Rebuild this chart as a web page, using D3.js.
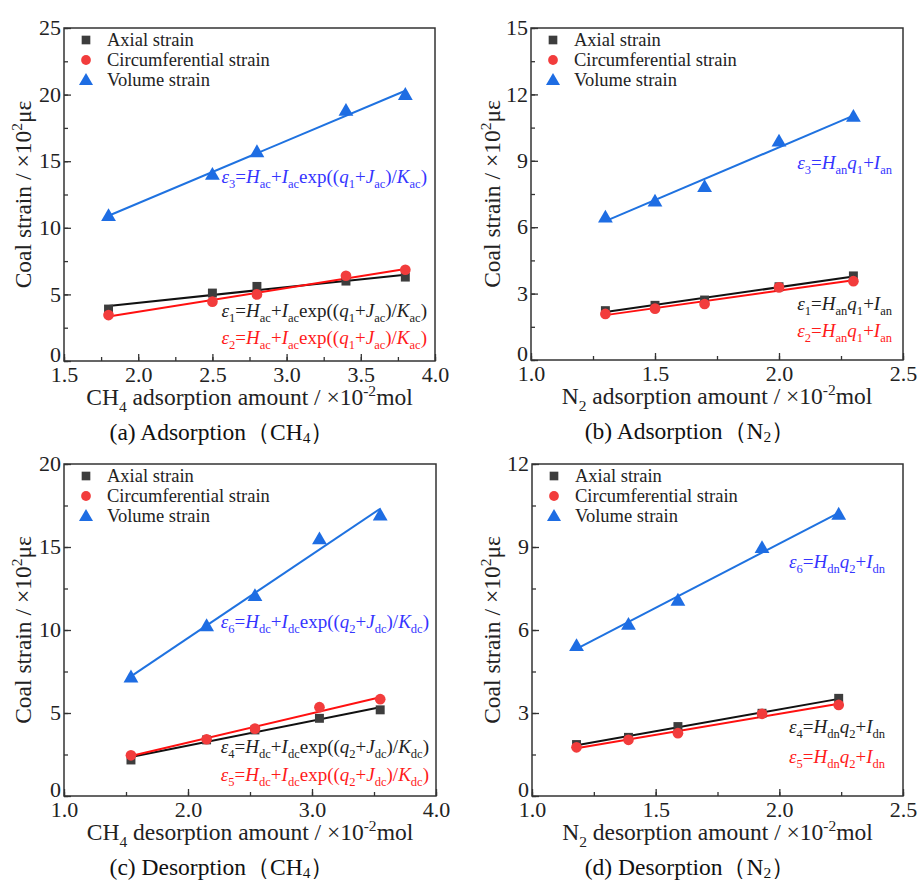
<!DOCTYPE html>
<html lang="en">
<head>
<meta charset="UTF-8">
<title>Coal strain vs adsorption / desorption</title>
<style>
  body { margin: 0; background: #fff; }
</style>
</head>
<body>
<script src="https://cdn.jsdelivr.net/npm/d3@7"></script>
<script>
// ---- data ----
const series_names = ['Axial strain', 'Circumferential strain', 'Volume strain'];

// (a) CH4 adsorption
const x_a = [1.8, 2.5, 2.8, 3.4, 3.8];
const axial_a = [3.9, 5.1, 5.6, 6.0, 6.3];
const circ_a = [3.45, 4.45, 5.0, 6.4, 6.85];
const volume_a = [10.9, 14.0, 15.7, 18.8, 20.0];

// (b) N2 adsorption
const x_b = [1.3, 1.5, 1.7, 2.0, 2.3];
const axial_b = [2.23, 2.47, 2.71, 3.31, 3.80];
const circ_b = [2.08, 2.32, 2.53, 3.28, 3.56];
const volume_b = [6.45, 7.17, 7.83, 9.88, 11.0];

// (c) CH4 desorption
const x_c = [1.54, 2.15, 2.54, 3.06, 3.55];
const axial_c = [2.17, 3.38, 3.98, 4.68, 5.19];
const circ_c = [2.45, 3.42, 4.06, 5.35, 5.83];
const volume_c = [7.16, 10.25, 12.06, 15.48, 16.92];

// (d) N2 desorption
const x_d = [1.18, 1.39, 1.59, 1.93, 2.24];
const axial_d = [1.86, 2.12, 2.51, 2.99, 3.53];
const circ_d = [1.76, 2.03, 2.27, 2.97, 3.29];
const volume_d = [5.43, 6.20, 7.07, 8.97, 10.18];

const serif = '"Liberation Serif", "Times New Roman", serif';
const marker_fill = ['#3d3d3d', '#f23c3c', '#1e6de3'];
const line_col = ['#111111', '#ff1010', '#1f72e0'];
const eq_col = ['#222222', '#ff1a1a', '#3535ff'];

// rich text: segments of [text, kind] with kind r = roman, i = italic, sub, sup
function rich(sel, segs, size, subShift = 0.28) {
    let shift = 0;
    segs.forEach(([t, k]) => {
        const ts = sel.append('tspan').text(t);
        let want = 0;
        if (k === 'sub') want = size * subShift;
        if (k === 'sup') want = -size * 0.38;
        if (want !== shift) { ts.attr('dy', want - shift); shift = want; }
        if (k === 'i') ts.attr('font-style', 'italic');
        if (k === 'sub' || k === 'sup') ts.attr('font-size', size * 0.66);
    });
}

const eqExp = (n, q, s) => [['ε', 'i'], [n, 'sub'], ['=', 'r'], ['H', 'i'], [s, 'sub'], ['+', 'r'], ['I', 'i'], [s, 'sub'],
    ['exp((', 'r'], ['q', 'i'], [q, 'sub'], ['+', 'r'], ['J', 'i'], [s, 'sub'], [')/', 'r'], ['K', 'i'], [s, 'sub'], [')', 'r']];
const eqLin = (n, q, s) => [['ε', 'i'], [n, 'sub'], ['=', 'r'], ['H', 'i'], [s, 'sub'], ['q', 'i'], [q, 'sub'], ['+', 'r'], ['I', 'i'], [s, 'sub']];

const panels = [
    { left: 64, top: 28, w: 371, h: 333, xd: [1.5, 4.0], yd: [0, 25], xs: 0.5, ys: 5, xfmt: '.1f',
      x: x_a, ys_data: [axial_a, circ_a, volume_a], ylx: 23,
      gas: 'CH', gsub: '4', word: 'adsorption', cap: '(a) Adsorption', capx: 222,
      eqs: [{ segs: eqExp('1', '1', 'ac'), y: 317, c: 0 }, { segs: eqExp('2', '1', 'ac'), y: 344, c: 1 }, { segs: eqExp('3', '1', 'ac'), y: 183, c: 2 }], eqr: 427 },
    { left: 531, top: 28, w: 372, h: 332, xd: [1.0, 2.5], yd: [0, 15], xs: 0.5, ys: 3, xfmt: '.1f',
      x: x_b, ys_data: [axial_b, circ_b, volume_b], ylx: 492,
      gas: 'N', gsub: '2', word: 'adsorption', cap: '(b) Adsorption', capx: 690,
      eqs: [{ segs: eqLin('1', '1', 'an'), y: 310, c: 0 }, { segs: eqLin('2', '1', 'an'), y: 337, c: 1 }, { segs: eqLin('3', '1', 'an'), y: 169, c: 2 }], eqr: 892 },
    { left: 64, top: 464, w: 372, h: 332, xd: [1.0, 4.0], yd: [0, 20], xs: 1.0, ys: 5, xfmt: '.1f',
      x: x_c, ys_data: [axial_c, circ_c, volume_c], ylx: 23,
      gas: 'CH', gsub: '4', word: 'desorption', cap: '(c) Desorption', capx: 222,
      eqs: [{ segs: eqExp('4', '2', 'dc'), y: 753, c: 0 }, { segs: eqExp('5', '2', 'dc'), y: 781, c: 1 }, { segs: eqExp('6', '2', 'dc'), y: 628, c: 2 }], eqr: 429 },
    { left: 532, top: 464, w: 371, h: 332, xd: [1.0, 2.5], yd: [0, 12], xs: 0.5, ys: 3, xfmt: '.1f',
      x: x_d, ys_data: [axial_d, circ_d, volume_d], ylx: 492,
      gas: 'N', gsub: '2', word: 'desorption', cap: '(d) Desorption', capx: 690,
      eqs: [{ segs: eqLin('4', '2', 'dn'), y: 733, c: 0 }, { segs: eqLin('5', '2', 'dn'), y: 763, c: 1 }, { segs: eqLin('6', '2', 'dn'), y: 568, c: 2 }], eqr: 885 },
];

const svg = d3.select('body').append('svg')
    .attr('width', 917).attr('height', 883)
    .style('background', '#fff')
    .attr('font-family', serif);

// least squares straight line through a series
function fit(xs, ys) {
    const mx = d3.mean(xs), my = d3.mean(ys);
    const sxy = d3.sum(xs, (x, i) => (x - mx) * (ys[i] - my));
    const sxx = d3.sum(xs, x => (x - mx) ** 2);
    const k = sxy / sxx;
    return x => my + k * (x - mx);
}

const range = (a, b, s) => d3.range(0, Math.round((b - a) / s) + 1).map(i => +(a + i * s).toFixed(4));

panels.forEach(p => {
    const g = svg.append('g').attr('transform', `translate(${p.left},${p.top})`);
    const x = d3.scaleLinear().domain(p.xd).range([0, p.w]);
    const y = d3.scaleLinear().domain(p.yd).range([p.h, 0]);

    // minor ticks
    g.append('g').attr('transform', `translate(0,${p.h})`)
        .call(d3.axisBottom(x).tickValues(range(p.xd[0], p.xd[1], p.xs / 2)).tickSize(-4).tickFormat(''))
        .call(a => a.select('.domain').remove());
    g.append('g')
        .call(d3.axisLeft(y).tickValues(range(p.yd[0], p.yd[1], p.ys / 2)).tickSize(-4).tickFormat(''))
        .call(a => a.select('.domain').remove());

    // major ticks
    const xa = g.append('g').attr('transform', `translate(0,${p.h})`)
        .call(d3.axisBottom(x).tickValues(range(p.xd[0], p.xd[1], p.xs)).tickSize(-7).tickPadding(5).tickFormat(d3.format(p.xfmt)));
    const ya = g.append('g')
        .call(d3.axisLeft(y).tickValues(range(p.yd[0], p.yd[1], p.ys)).tickSize(-7).tickPadding(3).tickFormat(d3.format('d')));
    [xa, ya].forEach(a => {
        a.select('.domain').remove();
        a.selectAll('text').attr('font-family', serif).attr('font-size', 22).attr('fill', '#222');
    });
    g.selectAll('.tick line').attr('stroke', '#333').attr('stroke-width', 1.3);
    xa.selectAll('text').attr('dy', '0.74em');
    // the zero label sits a little higher, clear of the first x label
    ya.selectAll('text').attr('dy', d => d === 0 ? '0.02em' : '0.3em');

    // frame
    g.append('rect').attr('width', p.w).attr('height', p.h)
        .attr('fill', 'none').attr('stroke', '#333').attr('stroke-width', 1.5);

    // fitted lines
    p.ys_data.forEach((ys, si) => {
        const f = fit(p.x, ys);
        const ends = d3.extent(p.x);
        g.append('line')
            .attr('x1', x(ends[0])).attr('y1', y(f(ends[0])))
            .attr('x2', x(ends[1])).attr('y2', y(f(ends[1])))
            .attr('stroke', line_col[si]).attr('stroke-width', 2);
    });

    // markers
    const sym = [d3.symbolSquare, d3.symbolCircle, d3.symbolTriangle];
    const sz = [80, 90, 95];
    p.ys_data.forEach((ys, si) => {
        g.selectAll(null).data(ys).enter().append('path')
            .attr('d', d3.symbol(sym[si], sz[si]))
            .attr('transform', (d, i) => `translate(${x(p.x[i])},${y(d) + (si === 2 ? 1 : 0)})`)
            .attr('fill', marker_fill[si]);
    });

    // legend
    series_names.forEach((name, si) => {
        const ly = 12 + si * 20;
        g.append('path').attr('d', d3.symbol(sym[si], si === 2 ? 85 : 75))
            .attr('transform', `translate(22,${ly + (si === 2 ? 1 : 0)})`)
            .attr('fill', marker_fill[si]);
        g.append('text').attr('x', 43).attr('y', ly).attr('dy', '0.33em')
            .attr('font-size', 18.5).attr('fill', '#222').text(name);
    });

    // equations
    p.eqs.forEach(e => {
        const t = svg.append('text').attr('x', p.eqr).attr('y', e.y)
            .attr('text-anchor', 'end').attr('font-size', 19).attr('fill', eq_col[e.c]);
        rich(t, e.segs, 19);
    });

    // y label
    const yl = svg.append('text')
        .attr('transform', `translate(${p.ylx},${p.top + p.h / 2}) rotate(-90)`)
        .attr('text-anchor', 'middle').attr('dy', '0.33em').attr('font-size', 23.5).attr('fill', '#222');
    rich(yl, [['Coal strain / ×10', 'r'], ['2', 'sup'], ['με', 'r']], 23.5);

    // x label
    const xl = svg.append('text')
        .attr('x', p.left + p.w / 2).attr('y', p.top + p.h + 44)
        .attr('text-anchor', 'middle').attr('font-size', 23.5).attr('fill', '#222');
    rich(xl, [[p.gas, 'r'], [p.gsub, 'sub'], [` ${p.word} amount / ×10`, 'r'], ['-2', 'sup'], ['mol', 'r']], 23.5);

    // caption
    const cp = svg.append('text')
        .attr('x', p.capx).attr('y', p.top + p.h + 79)
        .attr('text-anchor', 'middle').attr('font-size', 23.5).attr('fill', '#111');
    rich(cp, [[p.cap, 'r'], ['（', 'r'], [p.gas, 'r'], [p.gsub, 'sub'], ['）', 'r']], 23.5, 0.12);
});
</script>
</body>
</html>
